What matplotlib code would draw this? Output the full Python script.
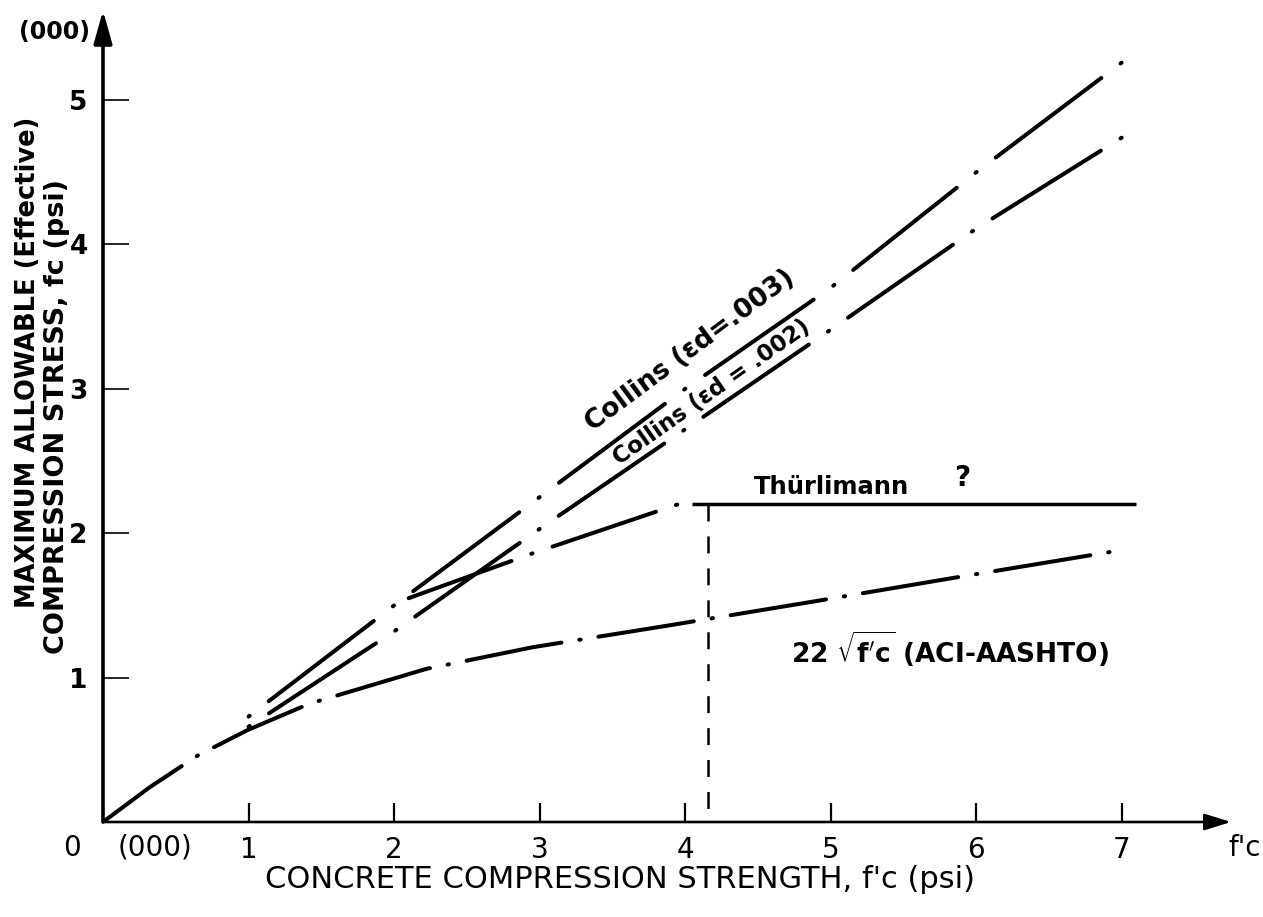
import matplotlib
matplotlib.use("Agg")
import matplotlib.pyplot as plt
from matplotlib import font_manager
import numpy as np

# values, thousands of psi
collins_x = [1.0, 2.0, 3.0, 4.0, 5.0, 6.0, 7.0]
collins_003 = [0.73, 1.50, 2.25, 3.00, 3.70, 4.50, 5.26]
collins_002 = [0.66, 1.32, 2.03, 2.72, 3.41, 4.11, 4.74]

aci_x = [0.0, 0.32, 0.65, 1.00, 1.42, 2.22, 2.95, 3.88, 4.90, 5.84, 6.92]
aci_y = [0.0, 0.24, 0.46, 0.64, 0.82, 1.06, 1.21, 1.36, 1.53, 1.69, 1.87]

thur_x = [2.10, 2.95, 3.95]
thur_y = [1.55, 1.86, 2.20]
thur_flat_x = [4.05, 7.10]
thur_flat_y = [2.20, 2.20]
thur_fc_limit = 4.16
thur_drop = [2.20, 0.08]

xticks = [1, 2, 3, 4, 5, 6, 7]
yticks = [1, 2, 3, 4, 5]

names = {f.name for f in font_manager.fontManager.ttflist}
narrow = 'Liberation Sans Narrow' if 'Liberation Sans Narrow' in names else 'DejaVu Sans'

plt.rcParams['font.family'] = ['DejaVu Sans']
plt.rcParams['mathtext.fontset'] = 'dejavusans'
plt.rcParams['lines.scale_dashes'] = False

fig = plt.figure(figsize=(12.63, 9.17), dpi=100)
ax = fig.add_axes([103 / 1263, 95 / 917, 1128 / 1263, 811.5 / 917])
ax.set_xlim(0, 7.75)
ax.set_ylim(0, 5.62)
for s in ax.spines.values():
    s.set_visible(False)


def path_len(x, y):
    # length of the drawn curve, in points
    p = ax.transData.transform(np.column_stack([x, y]))
    return np.hypot(*np.diff(p, axis=0).T).sum() * 72 / fig.dpi


lw = 2.9
dot = 1.0

# ACI: solid start, 8 dots, last dot at the end of the curve
off = 14 * 0.72 + lw
P = (path_len(aci_x, aci_y) - 1 + off + dot / 2) / 8
ax.plot(aci_x, aci_y, color='black', lw=lw, dash_capstyle='round',
        dashes=(P - 2 * off - dot, off, dot, off))

# Collins: a dot at every whole fc'
for ys, gap in ((collins_003, 20), (collins_002, 19)):
    off = gap * 0.72 + lw
    P = path_len(collins_x, ys) / 6 - 0.2
    ax.plot(collins_x, ys, color='black', lw=lw, dash_capstyle='round',
            dashes=(dot, off, P - 2 * off - dot, off))

# Thürlimann
off = 17 * 0.72 + lw
D = (path_len(thur_x, thur_y) - 1 - 3 * off - 1.5 * dot) / 2
ax.plot(thur_x, thur_y, color='black', lw=lw, dash_capstyle='round',
        dashes=(D, off, dot, off))
ax.plot(thur_flat_x, thur_flat_y, color='black', lw=2.5, solid_capstyle='butt')
ax.plot([thur_fc_limit, thur_fc_limit], thur_drop, color='black', lw=1.8,
        dash_capstyle='butt', dashes=(12.2, 10.8))

# axes with arrow heads
ax.annotate('', xy=(0, 1), xytext=(0, 0), xycoords='axes fraction',
            arrowprops=dict(arrowstyle='-|>,head_length=1.0,head_width=0.28',
                            color='black', shrinkA=0, shrinkB=0,
                            mutation_scale=20, lw=2.6),
            annotation_clip=False)
ax.annotate('', xy=(1, 0), xytext=(0, 0), xycoords='axes fraction',
            arrowprops=dict(arrowstyle='-|>,head_length=0.8,head_width=0.25',
                            color='black', shrinkA=0, shrinkB=0,
                            mutation_scale=20, lw=1.9),
            annotation_clip=False)

ax.set_xticks(xticks)
ax.set_yticks(yticks)
ax.set_xticklabels([str(t) for t in xticks], family=narrow, fontsize=20)
ax.set_yticklabels([str(t) for t in yticks], fontweight='bold', fontsize=19)
ax.tick_params(axis='y', direction='in', length=19, width=1.2, pad=11)
ax.tick_params(axis='x', direction='in', length=14, width=1.6, pad=10)

# curve labels
ax.text(3.365, 2.70, "Collins (εd=.003)", rotation=36.6, rotation_mode='anchor',
        ha='left', va='baseline', fontsize=19, fontweight='bold')
ax.text(3.55, 2.47, "Collins (εd = .002)", rotation=35.2, rotation_mode='anchor',
        ha='left', va='baseline', fontsize=16.5, fontweight='bold')
ax.text(4.47, 2.27, "Thürlimann", ha='left', va='baseline', fontsize=17.5,
        fontweight='bold')
ax.text(5.90, 2.38, "?", ha='center', va='center', fontsize=20, fontweight='bold')
ax.text(4.73, 1.10, r"22 $\sqrt{\mathbf{f'c}}$ (ACI-AASHTO)", ha='left',
        va='baseline', fontsize=19, fontweight='bold')

# axis titles
ax.text(-0.0665, 0.567, "MAXIMUM ALLOWABLE (Effective)", rotation=90,
        transform=ax.transAxes, ha='center', va='center', fontsize=18.5,
        fontweight='bold')
ax.text(-0.0405, 0.50, "COMPRESSION STRESS, fc (psi)", rotation=90,
        transform=ax.transAxes, ha='center', va='center', fontsize=19.5,
        fontweight='bold')
ax.text(-0.0426, 0.973, "(000)", transform=ax.transAxes, ha='center',
        va='center', fontsize=17, fontweight='bold')
ax.text(0.458, -0.071, "CONCRETE COMPRESSION STRENGTH, f'c (psi)",
        transform=ax.transAxes, ha='center', va='center', fontsize=22,
        family=narrow)
ax.text(-0.0275, -0.032, "0", transform=ax.transAxes, ha='center', va='center',
        fontsize=20, family=narrow)
ax.text(0.046, -0.032, "(000)", transform=ax.transAxes, ha='center',
        va='center', fontsize=20, family=narrow)
ax.text(1.012, -0.032, "f'c", transform=ax.transAxes, ha='center',
        va='center', fontsize=20, family=narrow)

plt.savefig('out.png', dpi=100)
